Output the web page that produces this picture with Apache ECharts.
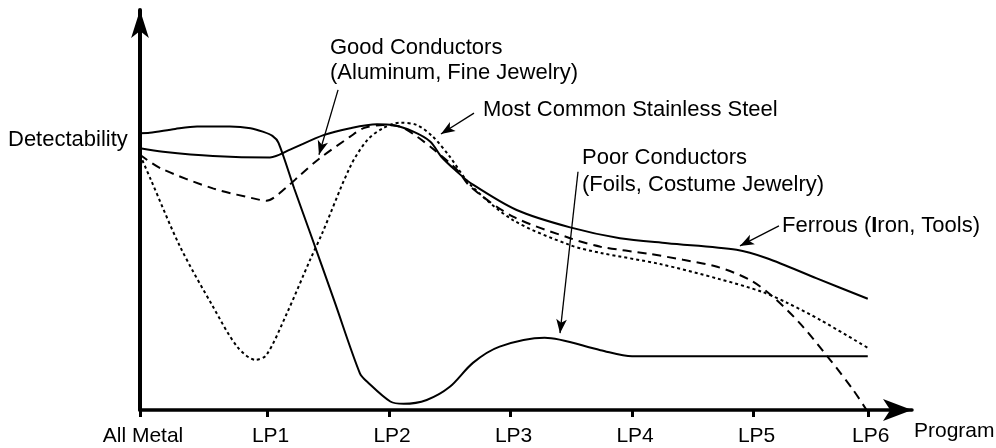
<!DOCTYPE html>
<html>
<head>
<meta charset="utf-8">
<script src="https://cdn.jsdelivr.net/npm/echarts@6/dist/echarts.min.js"></script>
<style>
  html, body { margin: 0; padding: 0; background: #fff; }
  #chart { width: 996px; height: 448px; }
</style>
</head>
<body>
<div id="chart"></div>
<script>
// program positions on the x axis (program units) and their names
const programs = ['All Metal', 'LP1', 'LP2', 'LP3', 'LP4', 'LP5', 'LP6'];
const programAt = [0, 1.05, 2.05, 3.05, 4.05, 5.05, 5.99];

// curves, [program, detectability]
const poorConductors = [
  [0, 71.7], [0.08, 71.8], [0.29, 72.8], [0.47, 73.4], [0.74, 73.4], [0.91, 73.0],
  [1.01, 72.1], [1.09, 71.0], [1.14, 69.2], [1.27, 57.3], [1.4, 45.9], [1.6, 28.2],
  [1.81, 9.5], [1.87, 7.3], [2.06, 2.2], [2.17, 1.6], [2.36, 2.6], [2.55, 6.0],
  [2.74, 12.2], [2.96, 16.4], [3.33, 18.7], [3.79, 15.5], [4.05, 13.9], [5.0, 13.9], [5.99, 13.9]
];
const ferrous = [
  [0, 67.8], [0.19, 66.9], [0.6, 65.8], [1.07, 65.4], [1.24, 67.5], [1.51, 71.2],
  [1.73, 73.0], [1.95, 74.0], [2.08, 73.8], [2.25, 72.1], [2.39, 69.5], [2.48, 65.6],
  [2.61, 61.7], [2.72, 58.8], [3.1, 51.8], [3.54, 47.3], [3.95, 44.5], [4.34, 43.2],
  [4.91, 41.5], [5.16, 39.3], [5.57, 34.1], [5.99, 28.8]
];
const goodConductors = [
  [0, 66.1], [0.17, 62.6], [0.6, 57.4], [0.99, 54.4], [1.04, 54.2], [1.21, 57.8],
  [1.32, 60.9], [1.48, 65.2], [1.73, 70.8], [1.84, 73.0], [2.0, 73.8], [2.14, 73.4],
  [2.28, 70.8], [2.44, 66.9], [2.61, 62.2], [2.72, 57.8], [3.07, 50.1], [3.54, 44.5],
  [3.79, 42.3], [4.2, 40.4], [4.47, 38.9], [4.75, 37.1], [5.02, 33.7], [5.21, 29.3],
  [5.43, 22.5], [5.68, 13.0], [5.87, 5.2], [5.98, 0]
];
const stainless = [
  [0, 66.1], [0.09, 59.6], [0.33, 42.3], [0.6, 26.8], [0.8, 16.4],
  [0.95, 13.0], [1.04, 14.2], [1.21, 25.1], [1.4, 38.9], [1.5, 45.8], [1.73, 63.0],
  [1.87, 69.9], [2.0, 73.0], [2.14, 74.4], [2.28, 73.8], [2.41, 70.8], [2.55, 65.6],
  [2.72, 58.3], [3.07, 49.2], [3.54, 42.7], [3.79, 40.7], [4.28, 37.8], [4.77, 33.9],
  [5.12, 30.6], [5.33, 27.7], [5.6, 23.3], [5.99, 16.1]
];

// annotation arrows: [from, to]
const goodArrow = [[1.63, 82.9], [1.473, 66.1]];
const stainlessArrow = [[2.749, 76.9], [2.477, 71.5]];
const poorArrow = [[3.605, 61.7], [3.457, 19.9]];
const ferrousArrow = [[5.259, 47.7], [4.938, 42.5]];

const textFont = '"Liberation Sans", Arial, sans-serif';

function arrow(pts) {
  return {
    silent: true,
    symbol: ['none', 'arrow'],
    symbolSize: [8, 14],
    label: { show: false },
    lineStyle: { type: 'solid', color: '#000', width: 1.3 },
    emphasis: { disabled: true },
    data: [[{ coord: pts[0] }, { coord: pts[1] }]]
  };
}

function curve(name, data, dash, arrowPts) {
  return {
    name: name,
    type: 'line',
    data: data,
    smooth: 0.3,
    showSymbol: false,
    lineStyle: { color: '#000', width: 2, type: dash },
    markLine: arrow(arrowPts)
  };
}

function label(text, x, y, extra) {
  return {
    type: 'text',
    x: x,
    y: y,
    style: Object.assign({
      text: text,
      fill: '#000',
      font: '22px ' + textFont,
      verticalAlign: 'middle'
    }, extra || {})
  };
}

const chart = echarts.init(document.getElementById('chart'));
chart.setOption({
  animation: false,
  grid: { left: 140, right: 84, top: 10, bottom: 38 },
  xAxis: {
    type: 'value',
    min: 0,
    max: 6.354,
    splitLine: { show: false },
    axisLine: {
      lineStyle: { color: '#000', width: 3.5 },
      symbol: ['none', 'arrow'],
      symbolSize: [16.5, 29]
    },
    axisTick: {
      customValues: programAt,
      length: 7,
      lineStyle: { color: '#000', width: 3 }
    },
    axisLabel: {
      customValues: programAt,
      margin: 16,
      padding: [0, 0, 0, 6],
      color: '#000',
      fontSize: 21,
      fontFamily: textFont,
      formatter: v => programs[programAt.indexOf(v)] || ''
    }
  },
  yAxis: {
    type: 'value',
    min: 0,
    max: 103.6,
    splitLine: { show: false },
    axisTick: { show: false },
    axisLabel: { show: false },
    axisLine: {
      lineStyle: { color: '#000', width: 4 },
      symbol: ['none', 'arrow'],
      symbolSize: [13.3, 28]
    }
  },
  series: [
    curve('Poor Conductors', poorConductors, 'solid', poorArrow),
    curve('Ferrous', ferrous, 'solid', ferrousArrow),
    curve('Good Conductors', goodConductors, [9, 6], goodArrow),
    curve('Most Common Stainless Steel', stainless, [3, 3], stainlessArrow)
  ],
  graphic: [
    label('Detectability', 8, 140),
    label('Good Conductors', 330, 48),
    label('(Aluminum, Fine Jewelry)', 330, 73),
    label('Most Common Stainless Steel', 483, 110),
    label('Poor Conductors', 582, 158),
    label('(Foils, Costume Jewelry)', 582, 185),
    label('Ferrous ({b|I}ron, Tools)', 782, 226, {
      rich: { b: { fontWeight: 'bold', fontSize: 22, fontFamily: textFont } }
    }),
    label('Program', 914, 431, { font: '21px ' + textFont })
  ]
});
</script>
</body>
</html>
